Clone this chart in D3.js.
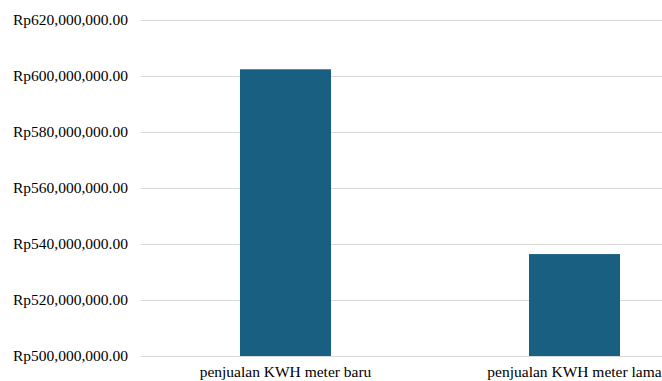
<!DOCTYPE html>
<html>
<head>
<meta charset="utf-8">
<script src="https://cdn.jsdelivr.net/npm/d3@7"></script>
<style>
  html, body { margin: 0; padding: 0; background: #ffffff; }
  svg { display: block; }
</style>
</head>
<body>
<svg id="chart" width="662" height="381"></svg>
<script>
// Penjualan KWH meter (Rupiah)
const categories = ["penjualan KWH meter baru", "penjualan KWH meter lama"];
const values = [602400000, 536400000];
const yTicks = [500000000, 520000000, 540000000, 560000000, 580000000, 600000000, 620000000];

const serif = "'Liberation Serif', 'Times New Roman', 'DejaVu Serif', serif";
const svg = d3.select("#chart");
const plot = { left: 141, right: 719, top: 20, bottom: 356 };

const y = d3.scaleLinear()
  .domain([500000000, 620000000])
  .range([plot.bottom, plot.top]);

const x = d3.scaleBand()
  .domain(categories)
  .range([plot.left, plot.right])
  .paddingInner(0.685)
  .paddingOuter(0.3425);

const rupiah = v => "Rp" + d3.format(",.2f")(v);

// horizontal gridlines
svg.append("g")
  .selectAll("line")
  .data(yTicks)
  .join("line")
  .attr("x1", plot.left)
  .attr("x2", 662)
  .attr("y1", d => Math.round(y(d)) + 0.5)
  .attr("y2", d => Math.round(y(d)) + 0.5)
  .attr("stroke", "#d9d9d9")
  .attr("stroke-width", 1);

// y-axis labels
const yAxis = d3.axisLeft(y).tickValues(yTicks).tickFormat(rupiah).tickSize(0).tickPadding(0);
const gy = svg.append("g")
  .attr("transform", `translate(128,0)`)
  .call(yAxis)
  .attr("font-family", null)
  .attr("font-size", null);
gy.select(".domain").remove();
gy.selectAll("text")
  .style("font-family", serif)
  .style("font-size", "15.5px")
  .attr("fill", "#000")
  .attr("dy", "0.32em");

// bars
svg.append("g")
  .selectAll("rect")
  .data(values)
  .join("rect")
  .attr("x", (d, i) => x(categories[i]))
  .attr("width", x.bandwidth())
  .attr("y", d => y(d))
  .attr("height", d => y(500000000) - y(d))
  .attr("fill", "#185f81");

// category labels
const xAxis = d3.axisBottom(x).tickSize(0).tickPadding(0);
const gx = svg.append("g")
  .attr("transform", `translate(0,${plot.bottom})`)
  .call(xAxis)
  .attr("font-family", null)
  .attr("font-size", null);
gx.select(".domain").remove();
gx.selectAll("text")
  .style("font-family", serif)
  .style("font-size", "15.5px")
  .attr("fill", "#000")
  .attr("dy", null)
  .attr("y", 21);
</script>
</body>
</html>
